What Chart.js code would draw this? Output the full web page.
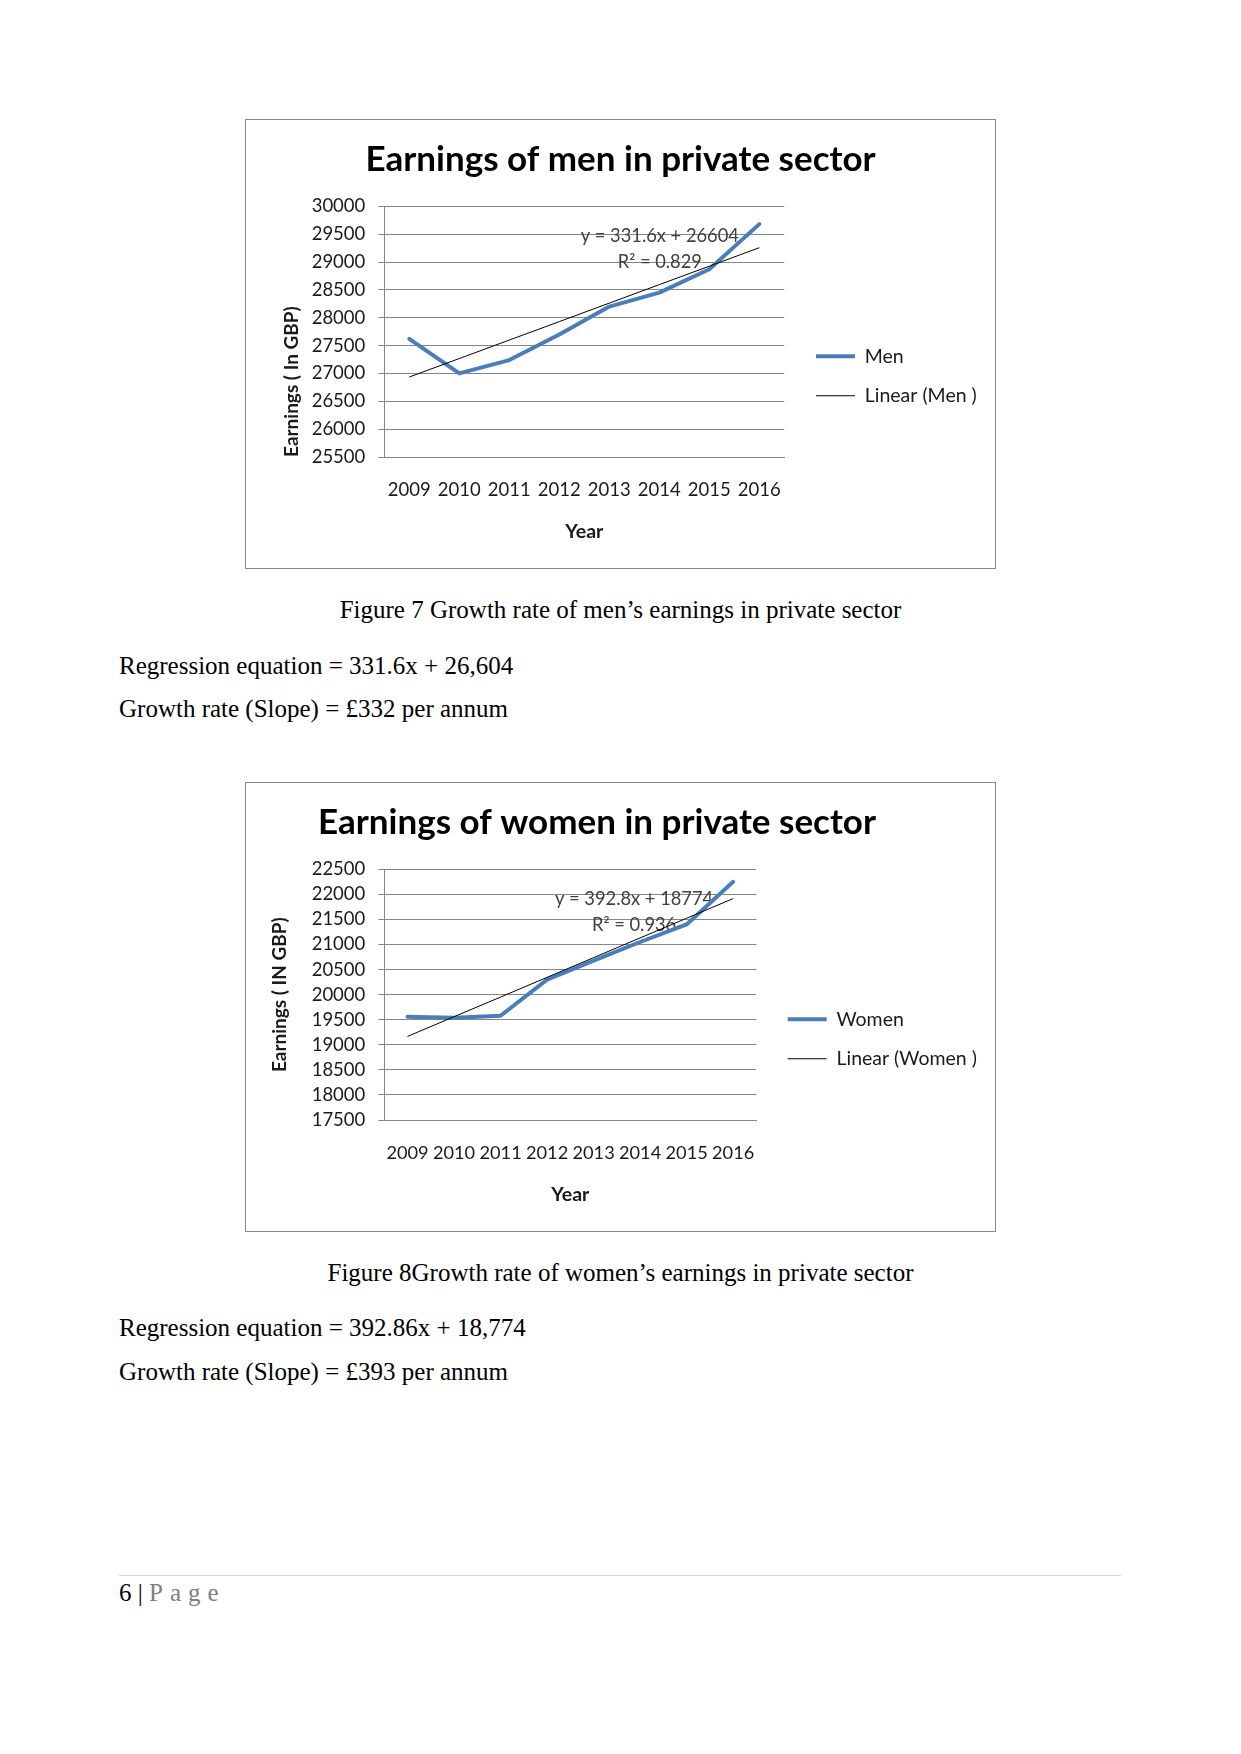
<!DOCTYPE html>
<html>
<head>
<meta charset="utf-8">
<script src="https://cdn.jsdelivr.net/npm/chart.js@4.4.1/dist/chart.umd.min.js"></script>
<style>
  body { margin: 0; background: #fff; }
  .page { position: relative; width: 1241px; height: 1754px; font-family: "Liberation Serif", "Times New Roman", serif; color: #000; }
  .box { position: absolute; left: 245px; width: 751px; height: 450px; }
  .box canvas { position: absolute; left: 0; top: 0; }
  .frame { position: absolute; left: 0; top: 0; width: 751px; height: 450px; box-sizing: border-box; border: 1px solid #8a8a8a; pointer-events: none; }
  .txt { position: absolute; font-size: 25px; line-height: 28px; white-space: nowrap; }
  .cap { left: 0; width: 1241px; text-align: center; }
  .left { left: 119px; }
  .rule { position: absolute; left: 119px; width: 1002px; top: 1575px; border-top: 1px solid #d9d9d9; }
  .foot { left: 119px; top: 1579px; }
  .foot .pg { color: #7f7f7f; letter-spacing: 7px; }
</style>
</head>
<body>
<div class="page">
  <div class="box" style="top:119px"><canvas id="menChart" width="751" height="450"></canvas><div class="frame"></div></div>
  <div class="txt cap" style="top:596px">Figure 7 Growth rate of men’s earnings in private sector</div>
  <div class="txt left" style="top:652px">Regression equation = 331.6x + 26,604</div>
  <div class="txt left" style="top:695px">Growth rate (Slope) = £332 per annum</div>

  <div class="box" style="top:782px"><canvas id="womenChart" width="751" height="450"></canvas><div class="frame"></div></div>
  <div class="txt cap" style="top:1259px">Figure 8Growth rate of women’s earnings in private sector</div>
  <div class="txt left" style="top:1314px">Regression equation = 392.86x + 18,774</div>
  <div class="txt left" style="top:1358px">Growth rate (Slope) = £393 per annum</div>

  <div class="rule"></div>
  <div class="txt foot">6 | <span class="pg">Page</span></div>
</div>
<script>
const years = ['2009', '2010', '2011', '2012', '2013', '2014', '2015', '2016'];

const menEarnings = [27620, 27000, 27240, 27700, 28200, 28450, 28870, 29680];
const menTrend = [26936, 27267, 27599, 27930, 28262, 28594, 28925, 29257];
const menTicks = [25500, 26000, 26500, 27000, 27500, 28000, 28500, 29000, 29500, 30000];
const menEquation = ['y = 331.6x + 26604', 'R² = 0.829'];

const womenEarnings = [19560, 19540, 19580, 20300, 20680, 21050, 21400, 22250];
const womenTrend = [19167, 19560, 19952, 20345, 20738, 21131, 21524, 21916];
const womenTicks = [17500, 18000, 18500, 19000, 19500, 20000, 20500, 21000, 21500, 22000, 22500];
const womenEquation = ['y = 392.8x + 18774', 'R² = 0.936'];

const BLUE = '#4a7ebb';
const GRID = '#868686';

// legend sits a bit lower and further right than chart.js would put it
const legendPlace = {
  id: 'legendPlace',
  beforeLayout(chart, args, opts) {
    const lg = chart.legend;
    if (lg && !lg.fitWrapped) {
      const fit = lg.fit;
      lg.fit = function () { fit.call(this); this.width = opts.width; };
      lg.fitWrapped = true;
    }
  },
  afterLayout(chart, args, opts) {
    const lg = chart.legend;
    lg.left += opts.dx;
    lg.right = chart.width;
    lg.top += opts.dy;
    lg.bottom += opts.dy;
  }
};

// the trendline equation text, placed in data units
const trendLabel = {
  id: 'trendLabel',
  beforeDatasetsDraw(chart, args, opts) {
    const { ctx, scales: { x, y } } = chart;
    ctx.save();
    ctx.font = '18.3px Lato';
    ctx.fillStyle = '#404040';
    ctx.textAlign = 'center';
    ctx.textBaseline = 'middle';
    opts.lines.forEach((t, i) => {
      ctx.fillText(t, x.getPixelForValue(opts.x), y.getPixelForValue(opts.y[i]));
    });
    ctx.restore();
  }
};

function makeChart(id, o) {
  const ctx = document.getElementById(id);
  return new Chart(ctx, {
    type: 'line',
    data: {
      labels: years,
      datasets: [
        {
          label: o.name,
          data: o.values,
          borderColor: BLUE,
          backgroundColor: BLUE,
          borderWidth: 4,
          pointRadius: 0,
          borderJoinStyle: 'round',
          borderCapStyle: 'round',
          order: 1,
        },
        {
          label: 'Linear (' + o.name + ' )',
          data: o.trend,
          borderColor: '#000',
          backgroundColor: '#000',
          borderWidth: 1,
          pointRadius: 0,
          order: 0,
        },
      ]
    },
    options: {
      responsive: false,
      animation: false,
      devicePixelRatio: 1,
      layout: { padding: { right: o.padRight } },
      plugins: {
        title: {
          display: true,
          text: o.title,
          color: '#000',
          font: { family: 'Lato', size: 35, weight: 'bold' },
          padding: { top: 19.7, bottom: 25.6 },
        },
        legend: {
          position: 'right',
          labels: {
            usePointStyle: true,
            pointStyle: 'line',
            pointStyleWidth: 39,
            padding: 20,
            color: '#1a1a1a',
            font: { family: 'Lato', size: 19.5 },
            sort: (a, b) => a.datasetIndex - b.datasetIndex,
          }
        },
        tooltip: { enabled: false },
        legendPlace: { width: o.legendWidth, dx: o.legendDx, dy: 32 },
        trendLabel: { lines: o.equation, x: o.eqX, y: o.eqY },
      },
      scales: {
        x: {
          offset: true,
          grid: { display: false },
          border: { display: true, color: GRID },
          ticks: {
            color: '#1a1a1a', padding: 14, autoSkip: false, maxRotation: 0, minRotation: 0,
            font: { family: 'Lato', size: o.xTickSize }
          },
          title: {
            display: true, text: 'Year', color: '#1a1a1a',
            font: { family: 'Lato', size: 19.5, weight: 'bold' },
            padding: { top: 0, bottom: 25.3 },
          },
          afterFit: s => { s.height = 112; },
        },
        y: {
          min: o.ticks[0],
          max: o.ticks[o.ticks.length - 1],
          afterBuildTicks: s => { s.ticks = o.ticks.map(v => ({ value: v })); },
          grid: { color: GRID, tickLength: 6 },
          border: { display: true, color: GRID },
          ticks: { color: '#1a1a1a', padding: 13, autoSkip: false, font: { family: 'Lato', size: 18.5 }, callback: v => String(v) },
          title: {
            display: true, text: o.yTitle, color: '#1a1a1a', align: o.yAlign,
            font: { family: 'Lato', size: 19, weight: 'bold' },
            padding: { top: o.yTitlePad, bottom: 0 },
          },
          afterFit: s => { s.width = 139.3; },
        }
      }
    },
    plugins: [legendPlace, trendLabel]
  });
}

makeChart('menChart', {
  name: 'Men',
  title: 'Earnings of men in private sector',
  yTitle: 'Earnings ( In GBP)',
  yAlign: 'start',
  yTitlePad: 35,
  values: menEarnings,
  trend: menTrend,
  ticks: menTicks,
  xTickSize: 18.5,
  equation: menEquation,
  eqX: 5.01,
  eqY: [29461, 29006],
  padRight: 0,
  legendWidth: 211.7,
  legendDx: 11.7,
});

makeChart('womenChart', {
  name: 'Women',
  title: 'Earnings of women in private sector',
  yTitle: 'Earnings ( IN GBP)',
  yAlign: 'center',
  yTitlePad: 23.6,
  values: womenEarnings,
  trend: womenTrend,
  ticks: womenTicks,
  xTickSize: 18.2,
  equation: womenEquation,
  eqX: 4.87,
  eqY: [21902, 21395],
  padRight: 47,
  legendWidth: 192.6,
  legendDx: 11.3,
});
</script>
</body>
</html>
